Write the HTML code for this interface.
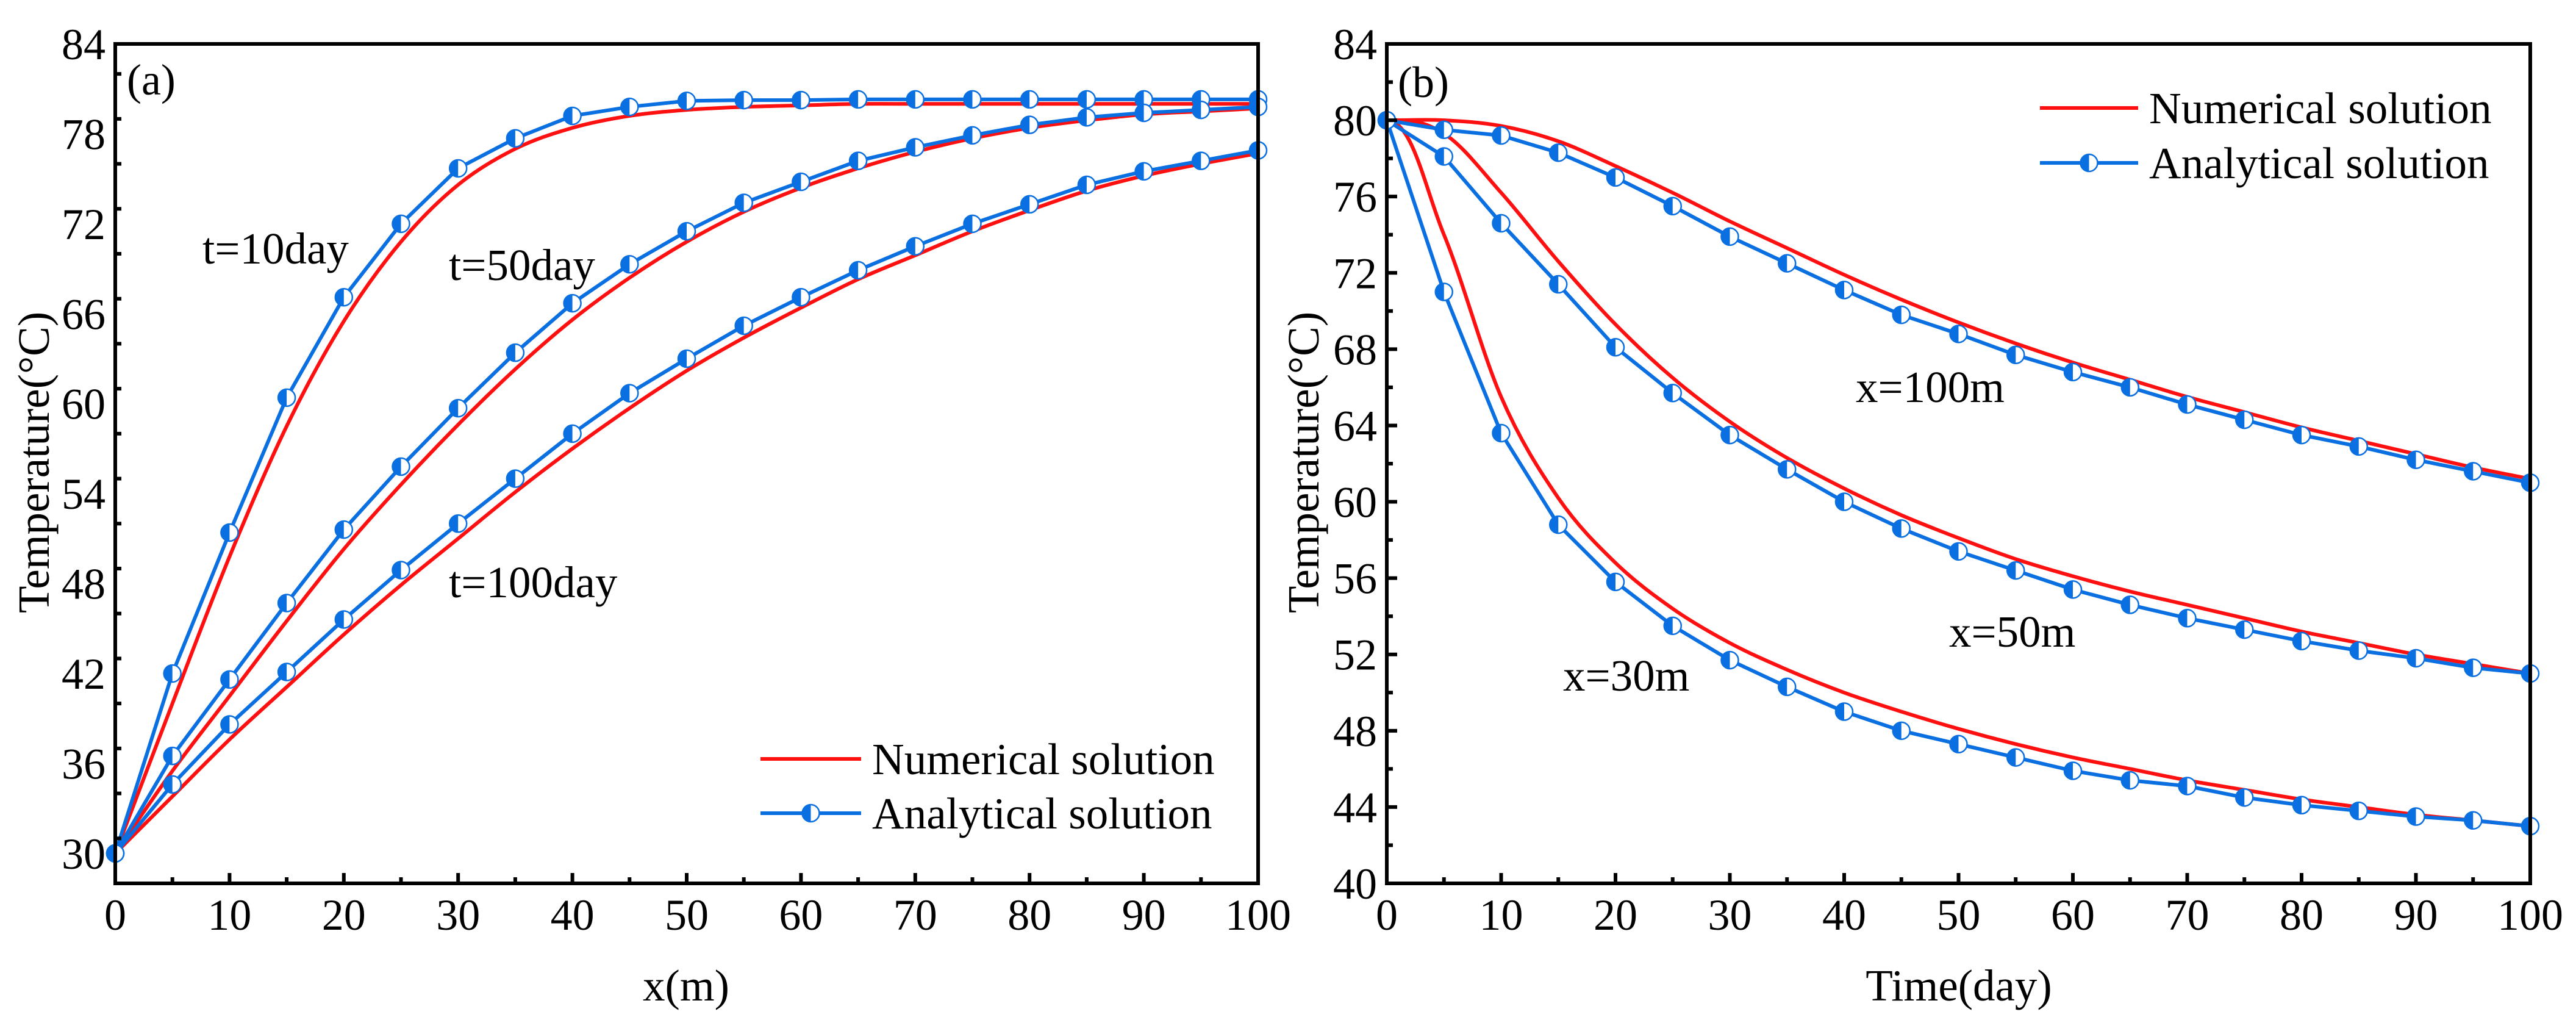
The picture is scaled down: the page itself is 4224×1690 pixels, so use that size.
<!DOCTYPE html>
<html><head><meta charset="utf-8"><style>
html,body{margin:0;padding:0;background:#fff;}
svg text{font-family:"Liberation Serif",serif;fill:#000;}
</style></head><body>
<svg id="chart" width="4224" height="1685" viewBox="0 0 4224 1685" xmlns="http://www.w3.org/2000/svg"></svg>
<script>
const xSteps = [0,5,10,15,20,25,30,35,40,45,50,55,60,65,70,75,80,85,90,95,100];
// Panel (a): temperature vs x
const aAnaT10 = [30,42.0,51.4,60.4,67.1,72.0,75.7,77.7,79.2,79.8,80.2,80.25,80.25,80.3,80.3,80.3,80.3,80.3,80.3,80.3,80.3];
const aNumT10 = [30,40.0,49.8,58.5,65.5,70.8,74.6,77.0,78.4,79.2,79.6,79.8,79.9,80,80,80,80,80,80,80,80];
const aAnaT50 = [30,36.5,41.6,46.7,51.6,55.8,59.7,63.4,66.7,69.3,71.5,73.4,74.8,76.2,77.1,77.9,78.6,79.1,79.4,79.6,79.8];
const aNumT50 = [30,35.5,40.5,45.5,50.3,54.6,58.6,62.3,65.6,68.4,70.8,72.8,74.4,75.7,76.8,77.7,78.4,78.9,79.3,79.5,79.7];
const aAnaT100 = [30,34.6,38.6,42.1,45.6,48.9,52.0,55.0,58.0,60.7,63.0,65.2,67.1,68.9,70.5,72.0,73.3,74.6,75.5,76.2,76.9];
const aNumT100 = [30,33.8,37.6,41.1,44.6,47.9,51.0,54.1,57.0,59.7,62.2,64.4,66.4,68.3,69.9,71.5,72.9,74.2,75.2,76.0,76.7];
// Panel (b): temperature vs time
const bAnaX100 = [80,79.5,79.2,78.3,77.0,75.5,73.9,72.5,71.1,69.8,68.8,67.7,66.8,66.0,65.1,64.3,63.5,62.9,62.2,61.6,61.0];
const bNumX100 = [80,80,79.7,78.9,77.6,76.2,74.7,73.3,71.9,70.6,69.4,68.3,67.3,66.4,65.5,64.7,63.9,63.2,62.5,61.8,61.2];
const bAnaX50 = [80,78.1,74.6,71.4,68.1,65.7,63.5,61.7,60.0,58.6,57.4,56.4,55.4,54.6,53.9,53.3,52.7,52.2,51.8,51.3,51.0];
const bNumX50 = [80,79.3,76.2,72.6,69.3,66.5,64.2,62.3,60.7,59.3,58.1,57.0,56.1,55.3,54.6,53.9,53.2,52.6,52.0,51.5,51.0];
const bAnaX30 = [80,71.0,63.6,58.8,55.8,53.5,51.7,50.3,49.0,48.0,47.3,46.6,45.9,45.4,45.1,44.5,44.1,43.8,43.5,43.3,43.0];
const bNumX30 = [80,74.0,65.5,60.2,56.8,54.4,52.6,51.2,50.0,49.0,48.1,47.3,46.6,46.0,45.4,44.9,44.4,44.0,43.6,43.3,43.0];
const xTicks = [0,10,20,30,40,50,60,70,80,90,100];
const aYTicks = [30,36,42,48,54,60,66,72,78,84];
const bYTicks = [40,44,48,52,56,60,64,68,72,76,80,84];

const NS='http://www.w3.org/2000/svg';
const svg=document.getElementById('chart');
const BLUE='#0a6fe0', RED='#ff1010';
function mk(tag,attrs,parent){const e=document.createElementNS(NS,tag);for(const k in attrs)e.setAttribute(k,attrs[k]);(parent||svg).appendChild(e);return e;}
function smooth(pts,flatStart){let d='M'+pts[0][0]+','+pts[0][1];for(let i=0;i<pts.length-1;i++){const p0=pts[i-1]||(flatStart?[2*pts[0][0]-pts[1][0],pts[0][1]]:pts[i]),p1=pts[i],p2=pts[i+1],p3=pts[i+2]||p2;let c1x=p1[0]+(p2[0]-p0[0])/6,c1y=p1[1]+(p2[1]-p0[1])/6;if(i===0&&flatStart){c1x=p1[0]+(p2[0]-p1[0])*0.45;c1y=p1[1];}const c2x=p2[0]-(p3[0]-p1[0])/6,c2y=p2[1]-(p3[1]-p1[1])/6;d+=`C${c1x},${c1y} ${c2x},${c2y} ${p2[0]},${p2[1]}`;}return d;}
function marker(g,cx,cy){
  mk('circle',{cx:cx,cy:cy,r:14,fill:'#fff',stroke:BLUE,'stroke-width':2.5},g);
  mk('path',{d:`M${cx},${cy-14}A14,14 0 0 0 ${cx},${cy+14}Z`,fill:BLUE},g);
}
function panel(cfg){
  const {L,R,T,B,ymin,ymax,yTicks,yMinor,name}=cfg;
  const g=mk('g',{});
  
  
  const sx=v=>L+(v-0)/100*(R-L), sy=v=>B-(v-ymin)/(ymax-ymin)*(B-T);
  cfg.series.forEach(s=>{
    const pts=xSteps.map((x,i)=>[sx(x),sy(s.vals[i])]);
    if(s.type==='num'){
      const p=mk('path',{d:smooth(pts,s.flat),fill:'none',stroke:RED,'stroke-width':6},g);
      
      
    } else {
      const sg=mk('g',{},g);
      
      
      mk('polyline',{points:pts.map(p=>p.join(',')).join(' '),fill:'none',stroke:BLUE,'stroke-width':6},sg);
      pts.forEach(p=>marker(sg,p[0],p[1]));
    }
  });
  const fr=mk('rect',{x:L,y:T,width:R-L,height:B-T,fill:'none',stroke:'#000','stroke-width':6},g);
  
  
  for(let v=0;v<=100;v+=5){const maj=v%10===0;mk('line',{x1:sx(v),x2:sx(v),y1:B,y2:B-(maj?17:10),stroke:'#000','stroke-width':6},g);}
  xTicks.forEach(v=>{const t=mk('text',{x:sx(v),y:1524,'font-size':72,'text-anchor':'middle'},g);t.textContent=v;
    
    });
  for(let v=ymin;v<=ymax+0.01;v+=yMinor){const maj=yTicks.includes(Math.round(v));mk('line',{x1:L,x2:L+(maj?17:10),y1:sy(v),y2:sy(v),stroke:'#000','stroke-width':6},g);}
  yTicks.forEach(v=>{const t=mk('text',{x:L-16,y:sy(v)+25,'font-size':72,'text-anchor':'end'},g);t.textContent=v;
    
    });
  return {sx,sy,g};
}
panel({name:'panel-a',L:189,R:2063,T:72,B:1448,ymin:28,ymax:84,yTicks:aYTicks,yMinor:3,series:[
 {type:'num',name:'numerical-t10',vals:aNumT10},{type:'num',name:'numerical-t50',vals:aNumT50},{type:'num',name:'numerical-t100',vals:aNumT100},
 {type:'ana',name:'analytical-t10',vals:aAnaT10},{type:'ana',name:'analytical-t50',vals:aAnaT50},{type:'ana',name:'analytical-t100',vals:aAnaT100}]});
panel({name:'panel-b',L:2274,R:4149,T:72,B:1448,ymin:40,ymax:84,yTicks:bYTicks,yMinor:2,series:[
 {type:'num',name:'numerical-x100',vals:bNumX100,flat:true},{type:'num',name:'numerical-x50',vals:bNumX50,flat:true},{type:'num',name:'numerical-x30',vals:bNumX30,flat:true},
 {type:'ana',name:'analytical-x100',vals:bAnaX100},{type:'ana',name:'analytical-x50',vals:bAnaX50},{type:'ana',name:'analytical-x30',vals:bAnaX30}]});

function txt(s,x,y,size,name,anchor,rot){const t=mk('text',{x:x,y:y,'font-size':size,'text-anchor':anchor||'start'});if(rot)t.setAttribute('transform',`rotate(-90 ${x} ${y})`);t.textContent=s;
  
  return t;}
txt('(a)',208,155,72,'panel-a-label');
txt('(b)',2292,159,72,'panel-b-label');
txt('t=10day',332,432,73,'label-t10');
txt('t=50day',736,459,73,'label-t50');
txt('t=100day',736,979,73,'label-t100');
txt('x=100m',3043,659,73,'label-x100');
txt('x=50m',3196,1060,73,'label-x50');
txt('x=30m',2563,1132,73,'label-x30');
txt('x(m)',1125,1640,73,'x-axis-title-a','middle');
txt('Time(day)',3212,1640,73,'x-axis-title-b','middle');
txt('Temperature(°C)',80,758,73,'y-axis-title-a','middle',true);
txt('Temperature(°C)',2162,758,73,'y-axis-title-b','middle',true);

function legend(x1,x2,y1,y2,name){
  const g=mk('g',{});
  
  
  mk('line',{x1:x1,x2:x2,y1:y1,y2:y1,stroke:RED,'stroke-width':6},g);
  mk('line',{x1:x1,x2:x2,y1:y2,y2:y2,stroke:BLUE,'stroke-width':6},g);
  marker(g,(x1+x2)/2,y2);
  const a=mk('text',{x:x2+18,y:y1+25,'font-size':73},g);a.textContent='Numerical solution';
  
  
  const b=mk('text',{x:x2+18,y:y2+25,'font-size':73},g);b.textContent='Analytical solution';
  
  
}
legend(1247,1412,1244,1333,'legend-a');
legend(3345,3506,177,267,'legend-b');
</script>
</body></html>
